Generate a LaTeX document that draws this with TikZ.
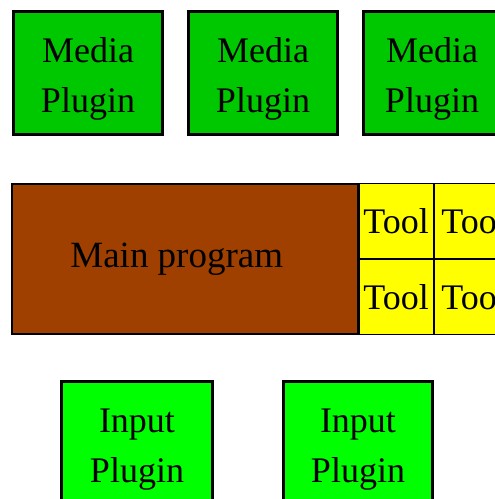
\documentclass[tikz,border=0pt]{standalone}
\usepackage{fontspec}
\setmainfont{Liberation Serif}
\usetikzlibrary{positioning}
\definecolor{MediaGreen}{HTML}{00C800}
\definecolor{InputGreen}{HTML}{00FF00}
\definecolor{MainBrown}{HTML}{A04000}
\definecolor{ToolYellow}{HTML}{FFFF00}

\begin{document}
\begin{tikzpicture}[x=1pt,y=-1pt,node distance=23pt]
    \tikzset{plug/.style={draw=black,line width=3pt,minimum width=149pt,minimum height=123pt,
      inner sep=0pt,align=center,text height=87pt,font=\fontsize{36}{50}\selectfont},
      mainbox/.style={draw=black,line width=1.5pt,fill=MainBrown,minimum width=346pt,
      minimum height=150pt,inner sep=0pt,font=\fontsize{37}{40}\selectfont},
      tool/.style={draw=black,line width=1pt,fill=ToolYellow,minimum width=74pt,
      minimum height=75pt,inner sep=0pt,font=\fontsize{36}{40}\selectfont}}
    \clip (0,0) rectangle (495,499);
    \fill[white] (0,0) rectangle (495,499);
    % plugin row on top
    \node[plug,fill=MediaGreen,anchor=north west] (m1) at (12,10) {Media\\Plugin};
    \node[plug,fill=MediaGreen,right=of m1] (m2) {Media\\Plugin};
    \node[plug,fill=MediaGreen,right=of m2,minimum width=137pt] (m3) {Media\\Plugin};
    % main program with its tools
    \node[mainbox,anchor=north west] (main) at (11,183) {\hspace*{-16pt}Main program};
    \node[tool,anchor=north west] (t11) at (main.north east) {Tool};
    \node[tool,right=0pt of t11,minimum width=80pt] (t12) {Tool};
    \node[tool,below=0pt of t11] (t21) {Tool};
    \node[tool,right=0pt of t21,minimum width=80pt] (t22) {Tool};
    % input plugins below
    \node[plug,fill=InputGreen,anchor=north west,minimum width=151pt] (in1) at (60,380) {Input\\Plugin};
    \node[plug,fill=InputGreen,anchor=north west] (in2) at (282,380) {Input\\Plugin};
  \end{tikzpicture}
\end{document}
